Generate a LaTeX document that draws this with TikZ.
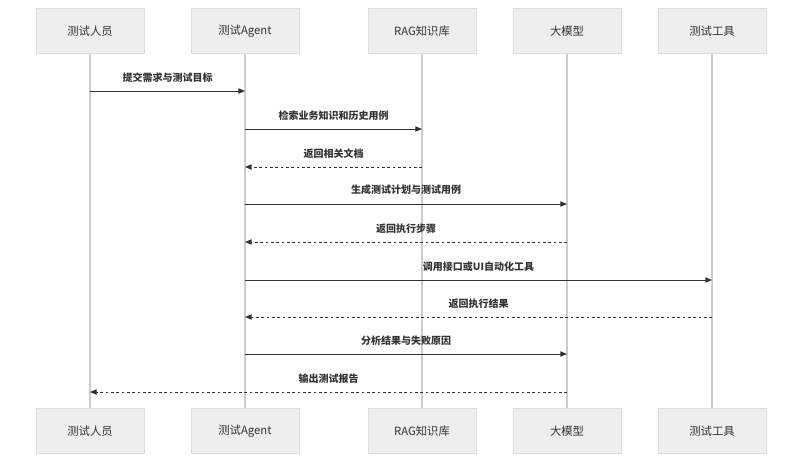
\documentclass[tikz,border=0pt]{standalone}
\usepackage{fontspec}
\setmainfont{Noto Sans CJK SC}
\usetikzlibrary{arrows.meta, positioning, calc}
\definecolor{boxfill}{RGB}{238, 238, 238}
\definecolor{boxline}{RGB}{221, 221, 221}
\definecolor{lifeline}{RGB}{204, 204, 204}
\definecolor{msgline}{RGB}{51, 51, 51}

\begin{document}
\begin{tikzpicture}[x=0.75pt, y=-0.75pt,
    actor/.style={draw=boxline, fill=boxfill, minimum width=81pt, minimum height=34pt, font=\fontsize{8.5}{10}\selectfont, text=msgline},
    life/.style={draw=lifeline, line width=0.8pt},
    msg/.style={draw=msgline, line width=0.7pt, -{Triangle[length=5pt, width=4pt]}},
    reply/.style={msg, dash pattern=on 2pt off 2pt},
    lbl/.style={font=\fontsize{7.5}{9}\selectfont\bfseries, text=msgline, above=3pt}]
  \useasboundingbox (0,0) rectangle (801,462);

  % Participants (top)
  \node[actor] (staff) at (90, 31) {测试人员};
  \node[actor] (agent) at (245, 31) {测试Agent};
  \node[actor] (rag) at (422, 31) {RAG知识库};
  \node[actor] (llm) at (567, 31) {大模型};
  \node[actor] (tool) at (712, 31) {测试工具};

  % Participants (bottom)
  \node[actor] (staffB) at (90, 431) {测试人员};
  \node[actor] (agentB) at (245, 431) {测试Agent};
  \node[actor] (ragB) at (422, 431) {RAG知识库};
  \node[actor] (llmB) at (567, 431) {大模型};
  \node[actor] (toolB) at (712, 431) {测试工具};

  % Lifelines
  \foreach \p in {staff, agent, rag, llm, tool}
    \draw[life] (\p.south) -- (\p B.north);

  % Message rows
  \foreach \n/\y in {m1/91, m2/129, m3/167, m4/204, m5/242, m6/280, m7/317, m8/354, m9/392}
    \coordinate (\n) at (0, \y);

  \draw[msg] (staff |- m1) -- node[lbl] {提交需求与测试目标} (agent |- m1);
  \draw[msg] (agent |- m2) -- node[lbl] {检索业务知识和历史用例} (rag |- m2);
  \draw[reply] (rag |- m3) -- node[lbl] {返回相关文档} (agent |- m3);
  \draw[msg] (agent |- m4) -- node[lbl] {生成测试计划与测试用例} (llm |- m4);
  \draw[reply] (llm |- m5) -- node[lbl] {返回执行步骤} (agent |- m5);
  \draw[msg] (agent |- m6) -- node[lbl] {调用接口或UI自动化工具} (tool |- m6);
  \draw[reply] (tool |- m7) -- node[lbl] {返回执行结果} (agent |- m7);
  \draw[msg] (agent |- m8) -- node[lbl] {分析结果与失败原因} (llm |- m8);
  \draw[reply] (llm |- m9) -- node[lbl] {输出测试报告} (staff |- m9);
\end{tikzpicture}
\end{document}
